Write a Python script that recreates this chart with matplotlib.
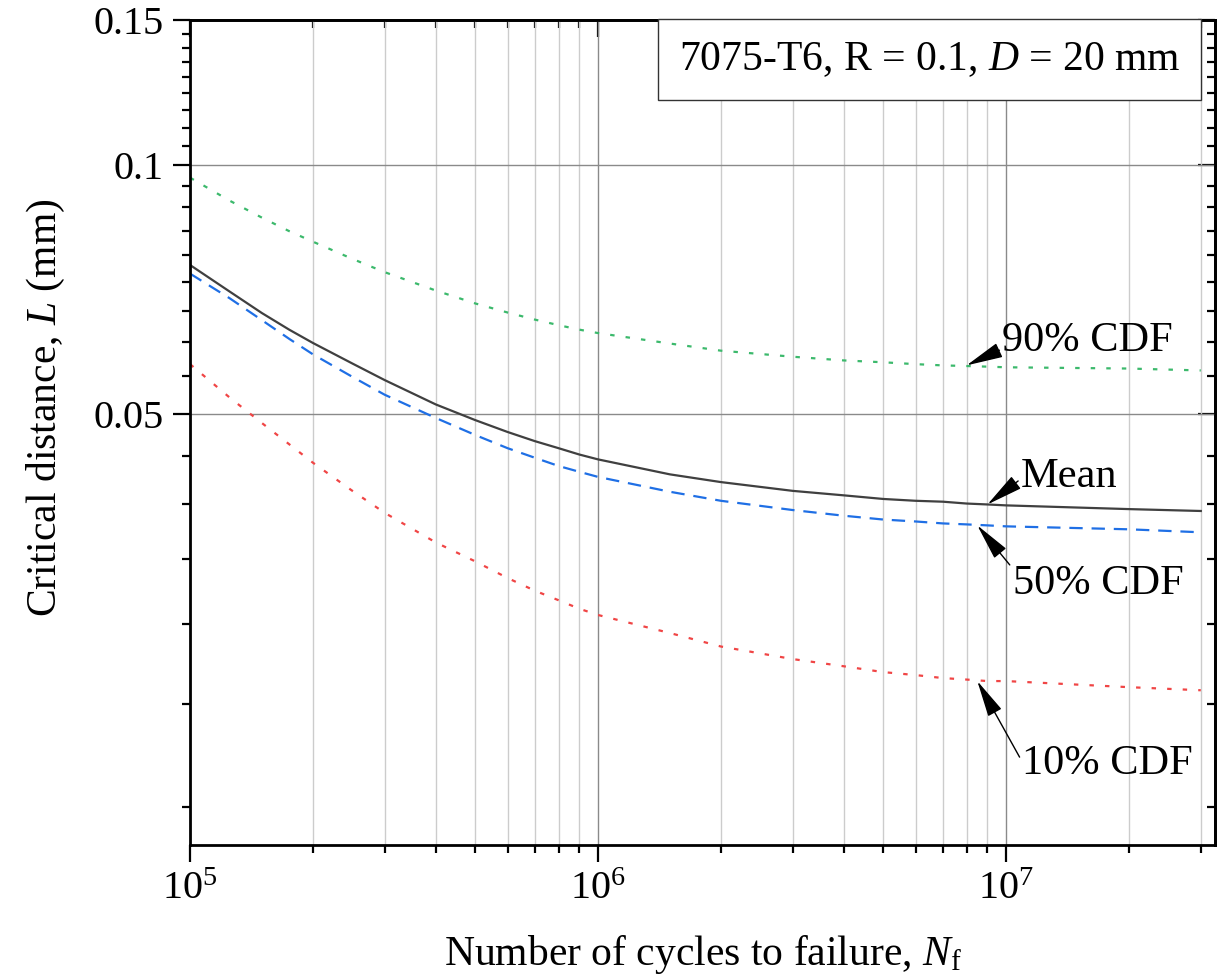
import matplotlib
matplotlib.use('Agg')
import matplotlib.pyplot as plt
import numpy as np
from matplotlib.ticker import FixedLocator, LogLocator, NullFormatter, FuncFormatter

plt.rcParams['font.family'] = ['Liberation Serif', 'DejaVu Serif']
plt.rcParams['mathtext.fontset'] = 'custom'
plt.rcParams['mathtext.rm'] = 'Liberation Serif'
plt.rcParams['mathtext.it'] = 'Liberation Serif:italic'

# cycles to failure and critical distance curves
cycles = [1e5, 1.25e5, 1.5e5, 1.75e5, 2e5, 2.5e5, 3e5, 4e5, 5e5, 6e5, 7e5, 8e5, 9e5,
          1e6, 1.5e6, 2e6, 3e6, 4e6, 5e6, 6e6, 7e6, 8e6, 9e6, 1e7, 2e7, 3e7]
L_mean = [0.0757, 0.0703, 0.0662, 0.0632, 0.0609, 0.0575, 0.0549, 0.0513, 0.0491, 0.0475,
          0.0463, 0.0454, 0.0446, 0.0440, 0.0422, 0.0413, 0.0403, 0.0398, 0.0394, 0.0392,
          0.0391, 0.0389, 0.0388, 0.0387, 0.0383, 0.0381]
L_50 = [0.0739, 0.0690, 0.0649, 0.0616, 0.0590, 0.0554, 0.0527, 0.0494, 0.0471, 0.0454,
        0.0442, 0.0432, 0.0425, 0.0419, 0.0402, 0.0392, 0.0382, 0.0376, 0.0372, 0.0370,
        0.0368, 0.0367, 0.0366, 0.0365, 0.0362, 0.0359]
L_90 = [0.0966, 0.0906, 0.0864, 0.0832, 0.0808, 0.0770, 0.0742, 0.0705, 0.0680, 0.0663,
        0.0650, 0.0640, 0.0632, 0.0626, 0.0608, 0.0596, 0.0586, 0.0580, 0.0577, 0.0574,
        0.0572, 0.0571, 0.0570, 0.0569, 0.0567, 0.0564]
L_10 = [0.0574, 0.0523, 0.0487, 0.0459, 0.0436, 0.0403, 0.0379, 0.0349, 0.0331, 0.0316,
        0.0305, 0.0297, 0.0290, 0.0285, 0.0271, 0.0261, 0.0252, 0.0247, 0.0243, 0.0241,
        0.0239, 0.0238, 0.0237, 0.0237, 0.0233, 0.0231]

y_major = [0.05, 0.1, 0.15]
y_labels = ['0.05', '0.1', '0.15']

fig = plt.figure(figsize=(12.3, 9.8), dpi=100)
ax = fig.add_axes([0.1545, 0.1378, 0.8333, 0.8418])

ax.plot(cycles, L_90, color='#3cb96c', lw=1.6, linestyle=(0, (2, 5)))
ax.plot(cycles, L_mean, color='#404040', lw=1.6)
ax.plot(cycles, L_50, color='#1f6fe5', lw=1.6, linestyle=(0, (6, 4)))
ax.plot(cycles, L_10, color='#f04545', lw=1.6, linestyle=(0, (2, 5)))

ax.set_xscale('log')
ax.set_yscale('log')
ax.set_xlim(1e5, 3.25e7)
ax.set_ylim(0.015, 0.15)

ax.xaxis.set_major_locator(FixedLocator([1e5, 1e6, 1e7]))
ax.xaxis.set_major_formatter(FuncFormatter(lambda v, p: r'10$^{%d}$' % round(np.log10(v))))
ax.xaxis.set_minor_locator(LogLocator(base=10, subs=np.arange(2, 10)))
ax.xaxis.set_minor_formatter(NullFormatter())

ax.yaxis.set_major_locator(FixedLocator(y_major))
ax.yaxis.set_major_formatter(FuncFormatter(lambda v, p: y_labels[y_major.index(min(y_major, key=lambda m: abs(m - v)))]))
minor_y = [k * 0.05 / 9 for k in range(3, 28) if k % 9 != 0]
ax.yaxis.set_minor_locator(FixedLocator(minor_y))
ax.yaxis.set_minor_formatter(NullFormatter())

ax.grid(True, which='major', axis='both', color='#8a8a8a', lw=1.0)
ax.grid(True, which='minor', axis='x', color='#cccccc', lw=1.0)
ax.set_axisbelow(True)

for s in ax.spines.values():
    s.set_linewidth(2.0)

ax.tick_params(which='both', labelsize=29, width=1.6, pad=7)
ax.tick_params(which='major', length=12)
ax.tick_params(which='minor', length=6)
ax.tick_params(axis='x', which='both', direction='out', top=False)
ax.tick_params(axis='y', which='both', direction='out', right=False)

# mirrored ticks pointing inward on top and right
sec_x = ax.secondary_xaxis('top')
sec_x.set_xticks([1e5, 1e6, 1e7])
sec_x.xaxis.set_minor_locator(LogLocator(base=10, subs=np.arange(2, 10)))
sec_x.tick_params(which='both', direction='in', labeltop=False, width=1.6)
sec_x.tick_params(which='major', length=12)
sec_x.tick_params(which='minor', length=6)
sec_x.xaxis.set_minor_formatter(NullFormatter())
sec_x.spines['top'].set_linewidth(2.0)

sec_y = ax.secondary_yaxis('right')
sec_y.set_yticks(y_major)
sec_y.yaxis.set_minor_locator(FixedLocator(minor_y))
sec_y.tick_params(which='both', direction='in', labelright=False, width=1.6)
sec_y.tick_params(which='major', length=12)
sec_y.tick_params(which='minor', length=6)
sec_y.yaxis.set_minor_formatter(NullFormatter())
sec_y.spines['right'].set_linewidth(2.0)

ax.set_xlabel(r'Number of cycles to failure, $N_\mathrm{f}$', fontsize=30, labelpad=18)
ax.set_ylabel(r'Critical distance, $L$ (mm)', fontsize=30)
ax.yaxis.set_label_coords(-0.12, 0.53)

def arrow(rp):
    return dict(arrowstyle='-|>,head_length=1.35,head_width=0.28', color='black', lw=1.0,
                shrinkA=0, shrinkB=0, mutation_scale=17, relpos=rp)

ax.annotate('90% CDF', xy=(8e6, 0.0572), xytext=(9.78e6, 0.0612), fontsize=30.5,
            ha='left', va='center', arrowprops=arrow((0, 0.3)))
ax.annotate('Mean', xy=(9.0e6, 0.0388), xytext=(1.087e7, 0.0419), fontsize=30.5,
            ha='left', va='center', arrowprops=arrow((0, 0.45)))
ax.annotate('50% CDF', xy=(8.5e6, 0.0366), xytext=(1.037e7, 0.0311), fontsize=30.5,
            ha='left', va='center', arrowprops=arrow((0, 0.9)))
ax.annotate('10% CDF', xy=(8.5e6, 0.0237), xytext=(1.096e7, 0.0188), fontsize=30.5,
            ha='left', va='center', arrowprops=arrow((0, 0.55)))

ax.text(0.7215, 0.952, r'7075-T6, R = 0.1, $D$ = 20 mm', transform=ax.transAxes,
        fontsize=30, ha='center', va='center', zorder=10,
        bbox=dict(boxstyle='square,pad=0.5', fc='white', ec='#333333', lw=1.0))

fig.savefig('out.png', dpi=100)
